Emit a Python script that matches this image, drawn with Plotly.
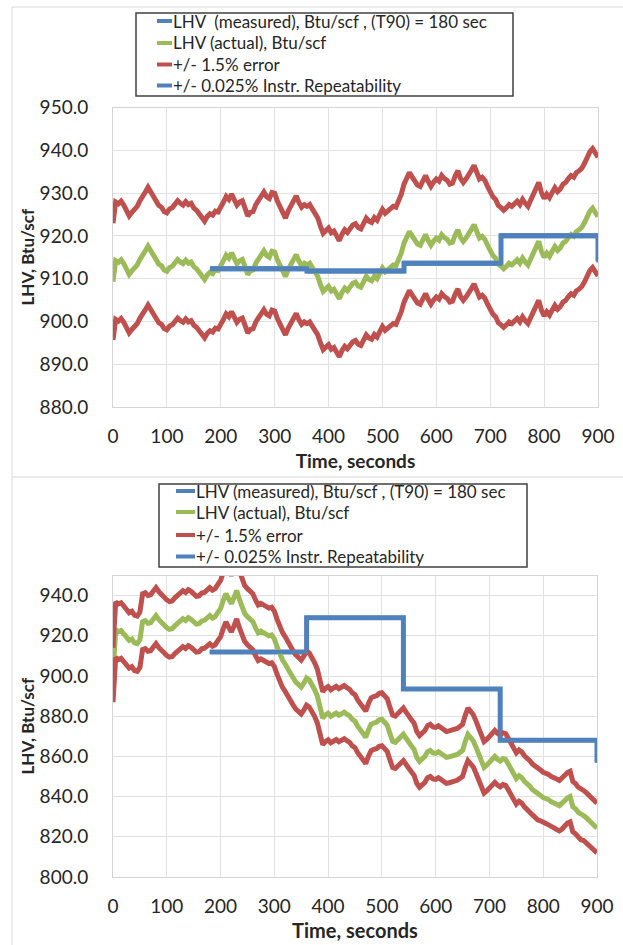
import plotly.graph_objects as go

# ---------------------------------------------------------------- data
time_s = list(range(0, 901, 5))

# LHV (actual), Btu/scf, sampled every 5 s -- upper chart
actual_top = [
    909.3, 914.2, 913.8, 914.4, 913.5, 912.2, 911.0, 911.8, 912.5, 913.2,
    914.5, 915.3, 916.5, 917.6, 916.4, 915.6, 914.5, 913.4, 913.0, 912.0,
    911.7, 912.6, 912.9, 913.6, 914.5, 913.9, 913.5, 914.3, 913.6, 913.9,
    912.8, 912.3, 911.5, 910.6, 909.8, 910.9, 911.5, 911.2, 912.1, 911.9,
    912.9, 914.2, 915.5, 914.8, 916.0, 914.6, 913.5, 914.2, 914.5, 912.8,
    911.0, 911.8, 912.0, 913.6, 914.5, 915.2, 916.5, 915.4, 915.0, 916.4,
    916.2, 914.4, 913.0, 911.4, 910.5, 912.1, 913.5, 914.6, 915.6, 914.1,
    913.0, 913.6, 913.2, 913.6, 912.5, 911.8, 910.5, 908.6, 907.0, 907.6,
    908.2, 907.1, 907.5, 906.4, 905.3, 906.8, 907.8, 907.2, 908.2, 908.9,
    909.2, 908.3, 908.0, 909.6, 910.5, 909.8, 909.5, 910.6, 910.0, 911.3,
    912.5, 911.6, 912.1, 912.7, 913.2, 913.0, 914.2, 916.0, 918.3, 919.8,
    921.0, 920.0, 919.0, 918.1, 917.8, 919.1, 920.3, 918.9, 917.8, 918.8,
    919.5, 919.0, 920.3, 919.6, 919.2, 918.3, 918.5, 920.2, 921.4, 919.6,
    918.7, 919.5, 920.8, 921.5, 922.6, 920.8, 919.5, 919.9, 919.2, 917.8,
    916.5, 915.4, 914.8, 913.4, 912.9, 912.3, 912.9, 913.6, 913.2, 914.0,
    914.4, 913.6, 914.8, 913.9, 913.2, 914.6, 916.0, 917.6, 918.7, 916.4,
    915.0, 916.0, 915.2, 916.4, 917.5, 916.6, 917.2, 918.3, 918.7, 919.6,
    920.3, 919.9, 921.0, 921.4, 922.0, 923.1, 924.5, 925.8, 926.5, 925.2,
    924.5,
]

# LHV (actual), Btu/scf, sampled every 5 s -- lower chart
actual_bottom = [
    900.5, 923.0, 922.0, 922.6, 921.0, 919.6, 917.7, 918.4, 916.5, 916.1,
    918.0, 927.0, 927.5, 926.2, 926.5, 928.3, 930.0, 928.1, 926.5, 925.6,
    924.0, 923.2, 923.5, 925.0, 926.0, 927.1, 928.5, 927.6, 929.0, 928.2,
    927.0, 925.8, 926.0, 927.4, 927.7, 928.6, 930.0, 928.8, 929.5, 931.6,
    933.5, 937.6, 941.0, 938.4, 936.0, 939.0, 942.5, 938.1, 933.5, 931.0,
    929.5, 928.6, 927.0, 924.0, 921.5, 922.3, 921.5, 921.0, 920.0, 920.4,
    918.5, 914.6, 911.0, 908.1, 906.0, 903.3, 901.5, 899.0, 897.0, 895.4,
    894.5, 896.5, 899.0, 898.0, 896.0, 893.2, 890.0, 884.1, 879.0, 880.6,
    881.5, 880.0, 880.5, 881.6, 880.5, 881.4, 882.0, 881.0, 880.2, 878.4,
    877.5, 875.0, 873.0, 870.6, 869.5, 873.2, 876.0, 876.6, 877.0, 878.2,
    878.5, 877.0, 875.5, 871.3, 867.5, 867.0, 868.5, 869.6, 871.0, 869.0,
    867.5, 865.2, 863.5, 859.4, 857.5, 858.6, 860.0, 862.4, 863.0, 861.7,
    861.5, 862.3, 861.5, 860.2, 859.5, 859.8, 860.0, 860.4, 861.0, 862.0,
    863.0, 867.4, 871.0, 869.4, 867.7, 864.6, 861.0, 857.6, 854.5, 855.6,
    857.0, 859.1, 860.0, 858.6, 857.7, 858.9, 858.5, 856.2, 853.5, 851.0,
    849.0, 850.4, 849.5, 847.6, 846.5, 845.2, 843.5, 842.3, 841.0, 840.6,
    839.5, 839.2, 838.5, 837.4, 837.0, 836.2, 835.5, 836.4, 838.0, 839.4,
    840.0, 835.0, 834.0, 832.2, 831.0, 830.6, 829.5, 828.0, 827.0, 825.6,
    824.3,
]

# measured LHV: one reading per 180 s analyser cycle (T90 = 180 s)
window_start = [180, 360, 540, 720, 900]
measured_top = [912.3, 911.8, 913.6, 920.0, 914.0]
measured_bottom = [912.0, 929.0, 893.5, 868.0, 857.0]

error_pct = 1.5        # +/- error band around the actual value
repeat_pct = 0.025     # instrument repeatability around the measured value

x_ticks = [0, 100, 200, 300, 400, 500, 600, 700, 800, 900]
y_ticks_top = [880, 890, 900, 910, 920, 930, 940, 950]
y_ticks_bottom = [800, 820, 840, 860, 880, 900, 920, 940]

legend_top = ["LHV\u00a0 (measured), Btu/scf , (T90) = 180 sec",
              "LHV (actual), Btu/scf",
              "+/- 1.5% error",
              "+/- 0.025% Instr. Repeatability"]
legend_bottom = ["LHV (measured), Btu/scf , (T90) = 180 sec",
                 "LHV (actual), Btu/scf",
                 "+/- 1.5% error",
                 "+/- 0.025% Instr. Repeatability"]

# ---------------------------------------------------------------- styling
BLUE = "#4F81BD"
GREEN = "#9BBB59"
RED = "#C0504D"
legend_colors = [BLUE, GREEN, RED, BLUE]
TXT = "#262626"
GRID = "#e2e2e2"
FONT = "Lato"
W, H = 623, 945
LW = 5


def px_x(p):
    return p / W


def px_y(p):
    return 1 - p / H


def scaled(values, pct):
    return [v * (1 + pct / 100.0) for v in values]


def add_panel(fig, actual, measured, names, xa, ya):
    common = dict(xaxis=xa, yaxis=ya, mode="lines", hoverinfo="skip",
                  showlegend=False)
    fig.add_trace(go.Scatter(x=window_start, y=measured, name=names[0],
                             line=dict(color=BLUE, width=LW, shape="hv"),
                             **common))
    fig.add_trace(go.Scatter(x=time_s, y=actual, name=names[1],
                             line=dict(color=GREEN, width=LW), **common))
    for sign in (1, -1):
        fig.add_trace(go.Scatter(x=time_s, y=scaled(actual, sign * error_pct),
                                 name=names[2],
                                 line=dict(color=RED, width=LW), **common))
    for sign in (1, -1):
        fig.add_trace(go.Scatter(x=window_start,
                                 y=scaled(measured, sign * repeat_pct),
                                 name=names[3],
                                 line=dict(color=BLUE, width=3, shape="hv"),
                                 **common))


def legend_box(left, top, right, bottom, sym_x0, sym_x1, text_x, rows, labels):
    """Framed key with a short coloured stroke before each label."""
    shapes = [dict(type="rect", xref="paper", yref="paper",
                   x0=px_x(left), x1=px_x(right),
                   y0=px_y(bottom), y1=px_y(top),
                   fillcolor="white", line=dict(color="#404040", width=1.5),
                   layer="above")]
    notes = []
    for row, label, color in zip(rows, labels, legend_colors):
        shapes.append(dict(type="line", xref="paper", yref="paper",
                           x0=px_x(sym_x0), x1=px_x(sym_x1),
                           y0=px_y(row), y1=px_y(row),
                           line=dict(color=color, width=4), layer="above"))
        notes.append(dict(text=label, xref="paper", yref="paper",
                          x=px_x(text_x), y=px_y(row),
                          xanchor="left", yanchor="middle", showarrow=False,
                          font=dict(family=FONT, size=17, color=TXT)))
    return shapes, notes


fig = go.Figure()
add_panel(fig, actual_top, measured_top, legend_top, "x", "y")
add_panel(fig, actual_bottom, measured_bottom, legend_bottom, "x2", "y2")


def x_axis(domain, anchor, title_size):
    return dict(
        domain=domain, anchor=anchor, range=[0, 900], tickvals=x_ticks,
        showgrid=True, gridcolor=GRID, gridwidth=1, zeroline=False,
        showline=True, linecolor="#d4d4d4", linewidth=1, mirror=True,
        ticks="", ticklabelstandoff=12, automargin=False,
        tickfont=dict(family=FONT, size=19, color=TXT),
        title=dict(text="<b>Time, seconds</b>", standoff=8,
                   font=dict(family=FONT, size=title_size, color=TXT)),
    )


def y_axis(domain, anchor, rng, ticks):
    return dict(
        domain=domain, anchor=anchor, range=rng, tickvals=ticks,
        tickformat=".1f", showgrid=True, gridcolor=GRID, gridwidth=1,
        zeroline=False, showline=True, linecolor="#d4d4d4", linewidth=1,
        mirror=True, ticks="", ticklabelstandoff=20, automargin=False,
        tickfont=dict(family=FONT, size=19, color=TXT),
        title=dict(text="<b>LHV, Btu/scf</b>", standoff=0,
                   font=dict(family=FONT, size=17, color=TXT)),
    )


frame_shapes = [
    dict(type="line", xref="paper", yref="paper",
         x0=px_x(12), x1=px_x(12), y0=px_y(7), y1=0,
         line=dict(color="#d9d9d9", width=1)),
    dict(type="line", xref="paper", yref="paper",
         x0=px_x(12), x1=1, y0=px_y(7), y1=px_y(7),
         line=dict(color="#d9d9d9", width=1)),
    dict(type="line", xref="paper", yref="paper",
         x0=px_x(12), x1=1, y0=px_y(477), y1=px_y(477),
         line=dict(color="#d9d9d9", width=1)),
]

s1, a1 = legend_box(136, 13, 513, 96, 157, 172, 171,
                    [21, 43, 64.5, 85.5], legend_top)
s2, a2 = legend_box(159, 484, 527, 567, 176, 195, 194,
                    [491, 512, 535, 556.5], legend_bottom)

fig.update_layout(
    width=W, height=H,
    margin=dict(l=0, r=0, t=0, b=0),
    paper_bgcolor="white", plot_bgcolor="white",
    font=dict(family=FONT, color=TXT),
    showlegend=False,
    xaxis=x_axis([px_x(113), px_x(598)], "y", 19),
    yaxis=y_axis([px_y(407), px_y(107.5)], "x", [880, 950], y_ticks_top),
    xaxis2=x_axis([px_x(113), px_x(597)], "y2", 20),
    yaxis2=y_axis([px_y(877), px_y(575.5)], "x2", [800, 950], y_ticks_bottom),
    shapes=frame_shapes + s1 + s2,
    annotations=a1 + a2,
)

fig.write_html("out.html")
